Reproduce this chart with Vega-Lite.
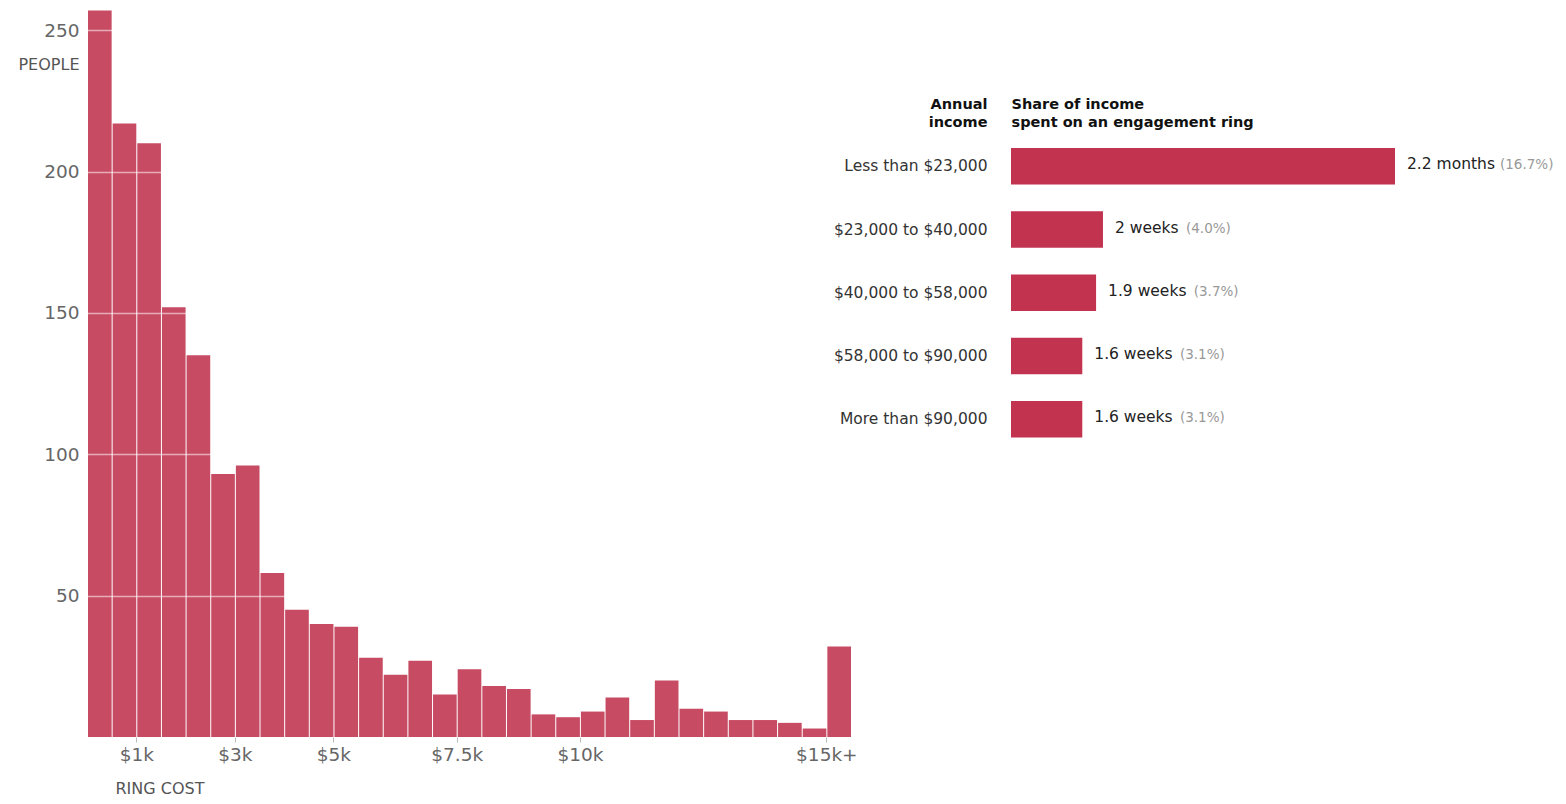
{
  "$schema": "https://vega.github.io/schema/vega-lite/v6.json",
  "background": "white",
  "padding": {"left": 17, "top": 2, "right": 0, "bottom": 0},
  "spacing": 160,
  "bounds": "flush",
  "config": {"view": {"stroke": null}, "font": "DejaVu Sans"},
  "hconcat": [
    {
      "width": 764,
      "height": 735,
      "data": {
        "values": [
          {"cost_from": 0, "cost_to": 500, "people": 257},
          {"cost_from": 500, "cost_to": 1000, "people": 217},
          {"cost_from": 1000, "cost_to": 1500, "people": 210},
          {"cost_from": 1500, "cost_to": 2000, "people": 152},
          {"cost_from": 2000, "cost_to": 2500, "people": 135},
          {"cost_from": 2500, "cost_to": 3000, "people": 93},
          {"cost_from": 3000, "cost_to": 3500, "people": 96},
          {"cost_from": 3500, "cost_to": 4000, "people": 58},
          {"cost_from": 4000, "cost_to": 4500, "people": 45},
          {"cost_from": 4500, "cost_to": 5000, "people": 40},
          {"cost_from": 5000, "cost_to": 5500, "people": 39},
          {"cost_from": 5500, "cost_to": 6000, "people": 28},
          {"cost_from": 6000, "cost_to": 6500, "people": 22},
          {"cost_from": 6500, "cost_to": 7000, "people": 27},
          {"cost_from": 7000, "cost_to": 7500, "people": 15},
          {"cost_from": 7500, "cost_to": 8000, "people": 24},
          {"cost_from": 8000, "cost_to": 8500, "people": 18},
          {"cost_from": 8500, "cost_to": 9000, "people": 17},
          {"cost_from": 9000, "cost_to": 9500, "people": 8},
          {"cost_from": 9500, "cost_to": 10000, "people": 7},
          {"cost_from": 10000, "cost_to": 10500, "people": 9},
          {"cost_from": 10500, "cost_to": 11000, "people": 14},
          {"cost_from": 11000, "cost_to": 11500, "people": 6},
          {"cost_from": 11500, "cost_to": 12000, "people": 20},
          {"cost_from": 12000, "cost_to": 12500, "people": 10},
          {"cost_from": 12500, "cost_to": 13000, "people": 9},
          {"cost_from": 13000, "cost_to": 13500, "people": 6},
          {"cost_from": 13500, "cost_to": 14000, "people": 6},
          {"cost_from": 14000, "cost_to": 14500, "people": 5},
          {"cost_from": 14500, "cost_to": 15000, "people": 3},
          {"cost_from": 15000, "cost_to": 15500, "people": 32}
        ]
      },
      "mark": {"type": "bar", "color": "#c84b64", "binSpacing": 1},
      "encoding": {
        "x": {
          "field": "cost_from",
          "type": "quantitative",
          "bin": {"binned": true, "step": 500},
          "scale": {"domain": [0, 15500], "nice": false, "zero": false},
          "axis": {
            "values": [1000, 3000, 5000, 7500, 10000, 15000],
            "labelExpr": "datum.value == 15000 ? '$15k+' : '$' + datum.value / 1000 + 'k'",
            "domain": false,
            "grid": false,
            "ticks": true,
            "tickSize": 5,
            "tickColor": "#bbbbbb",
            "labelFont": "DejaVu Sans",
            "labelFontSize": 18.5,
            "labelColor": "#666666",
            "labelPadding": 3,
            "title": "RING COST",
            "titleX": 28,
            "titleY": 56,
            "titleAlign": "left",
            "titleBaseline": "alphabetic",
            "titleFont": "DejaVu Sans",
            "titleFontWeight": "normal",
            "titleFontSize": 16,
            "titleColor": "#555555"
          }
        },
        "x2": {"field": "cost_to"},
        "y": {
          "field": "people",
          "type": "quantitative",
          "scale": {"domain": [0, 260], "nice": false},
          "axis": {
            "values": [50, 100, 150, 200, 250],
            "domain": false,
            "ticks": false,
            "grid": true,
            "gridColor": "#ffffff",
            "gridOpacity": 0.55,
            "gridWidth": 1.5,
            "zindex": 1,
            "labelFont": "DejaVu Sans",
            "labelFontSize": 18.5,
            "labelColor": "#666666",
            "labelPadding": 8,
            "title": "PEOPLE",
            "titleAngle": 0,
            "titleX": -8,
            "titleY": 67,
            "titleAlign": "right",
            "titleBaseline": "alphabetic",
            "titleFont": "DejaVu Sans",
            "titleFontWeight": "normal",
            "titleFontSize": 16,
            "titleColor": "#555555"
          }
        }
      }
    },
    {
      "width": 384,
      "height": 436,
      "data": {
        "values": [
          {"income": "Less than $23,000", "share": 16.7, "spent": "2.2 months", "share_label": "(16.7%)"},
          {"income": "$23,000 to $40,000", "share": 4.0, "spent": "2 weeks", "share_label": "(4.0%)"},
          {"income": "$40,000 to $58,000", "share": 3.7, "spent": "1.9 weeks", "share_label": "(3.7%)"},
          {"income": "$58,000 to $90,000", "share": 3.1, "spent": "1.6 weeks", "share_label": "(3.1%)"},
          {"income": "More than $90,000", "share": 3.1, "spent": "1.6 weeks", "share_label": "(3.1%)"}
        ]
      },
      "encoding": {
        "y": {
          "field": "income",
          "type": "nominal",
          "sort": null,
          "scale": {"range": [146, 435.6], "paddingInner": 0.423, "paddingOuter": 0},
          "axis": {
            "domain": false,
            "ticks": false,
            "grid": false,
            "labelPadding": 24,
            "labelFont": "DejaVu Sans",
            "labelFontSize": 15.5,
            "labelColor": "#333333",
            "labelLimit": 300,
            "title": ["Annual", "income"],
            "titleAngle": 0,
            "titleAlign": "right",
            "titleX": -24,
            "titleY": 106.5,
            "titleBaseline": "alphabetic",
            "titleFont": "DejaVu Sans",
            "titleFontSize": 14.5,
            "titleFontWeight": "bold",
            "titleColor": "#111111",
            "titleLineHeight": 18
          }
        },
        "x": {
          "field": "share",
          "type": "quantitative",
          "scale": {"domain": [0, 16.7], "nice": false},
          "axis": {
            "orient": "top",
            "domain": false,
            "ticks": false,
            "labels": false,
            "grid": false,
            "title": ["Share of income", "spent on an engagement ring"],
            "titleAnchor": "start",
            "titleAlign": "left",
            "titleX": 0,
            "titleY": 106.5,
            "titleBaseline": "alphabetic",
            "titleFont": "DejaVu Sans",
            "titleFontSize": 14.5,
            "titleFontWeight": "bold",
            "titleColor": "#111111",
            "titleLineHeight": 18
          }
        }
      },
      "layer": [
        {"mark": {"type": "bar", "color": "#c23350"}},
        {
          "mark": {"type": "text", "align": "left", "baseline": "middle", "dx": 12, "dy": -2, "font": "DejaVu Sans", "fontSize": 15.5, "color": "#222222"},
          "encoding": {"text": {"field": "spent"}}
        },
        {
          "mark": {"type": "text", "align": "left", "baseline": "middle", "dx": {"expr": "31.7 + 7.33 * length(datum.spent)"}, "dy": -1, "font": "DejaVu Sans", "fontSize": 13.5, "color": "#999999"},
          "encoding": {"text": {"field": "share_label"}}
        }
      ]
    }
  ]
}
